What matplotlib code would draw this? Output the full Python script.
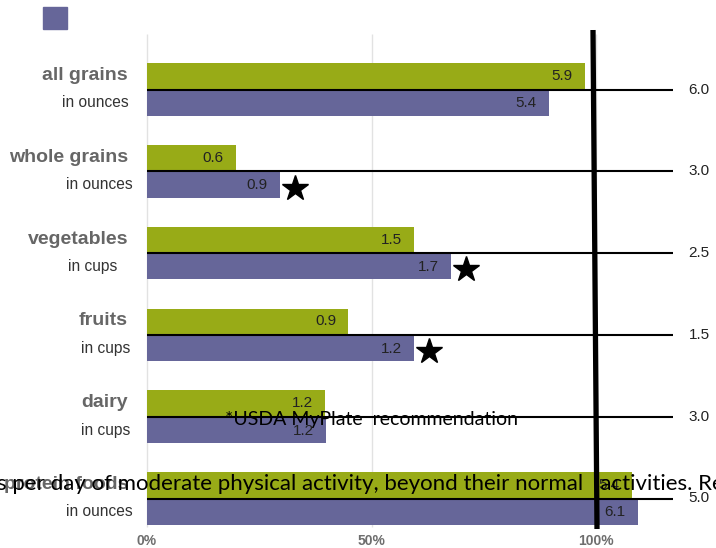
import matplotlib
matplotlib.use("Agg")
from matplotlib import pyplot as plt
from matplotlib.patches import Rectangle

# data (bar lengths are % of the USDA recommendation)
foods = ['all grains', 'whole grains', 'vegetables', 'fruits', 'dairy', 'protein foods']
units = ['in ounces', 'in ounces', 'in cups', 'in cups', 'in cups', 'in ounces']
green_pct = [97.5, 19.8, 59.5, 44.8, 39.6, 108.0]
purple_pct = [89.5, 29.6, 67.7, 59.5, 39.8, 109.3]
green_vals = ['5.9', '0.6', '1.5', '0.9', '1.2', '5.4']
purple_vals = ['5.4', '0.9', '1.7', '1.2', '1.2', '6.1']
recommended = ['6.0', '3.0', '2.5', '1.5', '3.0', '5.0']
starred = [False, True, True, True, False, False]
x_ticks = [0, 50, 100]
x_tick_labels = ['0%', '50%', '100%']

GREEN = '#98ab17'
PURPLE = '#666699'

# pixel helpers (0% at px 147, 1% = 4.49 px, category step 81.8 px)
PX0, PXPCT = 147.0, 4.49
PY0, PYSTEP = 89.5, 81.8
def px2x(px):
    return (px - PX0) / PXPCT
def py2y(py):
    return (py - PY0) / PYSTEP

sub_right_px = [129, 133, 117, 130, 130, 133]

fig = plt.figure(figsize=(7.16, 5.48), dpi=100)
ax = fig.add_axes([0, 0, 1, 1])
ax.set_xlim(px2x(0), px2x(716))
ax.set_ylim(py2y(548), py2y(0))
ax.axis('off')

# light grid
ax.vlines(x_ticks, py2y(34), py2y(527), color='#e2e2e2', lw=1, zorder=0)

idx = list(range(len(foods)))
h = 0.322
ax.barh([i - h / 2 for i in idx], green_pct, height=h, color=GREEN, zorder=2)
ax.barh([i + h / 2 for i in idx], purple_pct, height=h, color=PURPLE, zorder=2)

# recommendation lines
ax.hlines(idx, 0, px2x(673), color='black', lw=1.5, zorder=3)
for i in idx:
    ax.text(px2x(699), i, recommended[i], ha='center', va='center',
            fontsize=11, color='#222222', family='Liberation Sans', zorder=4)

# value labels in bars
for i in idx:
    ax.text(green_pct[i] - 12 / PXPCT, i - 0.165, green_vals[i], ha='right', va='center',
            fontsize=11, color='#222222', family='Liberation Sans', zorder=4)
    ax.text(purple_pct[i] - 12 / PXPCT, i + 0.17, purple_vals[i], ha='right', va='center',
            fontsize=11, color='#222222', family='Liberation Sans', zorder=4)
    if starred[i]:
        ax.plot(purple_pct[i] + 15 / PXPCT, i + 0.2, marker='*', ms=19, color='black',
                zorder=4, clip_on=False)

# category labels
for i in idx:
    ax.text(px2x(128), i - 0.17, foods[i], ha='right', va='center', fontsize=14,
            fontweight='bold', color='#666666', family='Liberation Sans', zorder=4)
    ax.text(px2x(sub_right_px[i]), i + 0.165, units[i], ha='right', va='center',
            fontsize=11.2, color='#333333', family='Liberation Sans', zorder=4)

for x, lab in zip(x_ticks, x_tick_labels):
    ax.text(x, py2y(541), lab, ha='center', va='center', fontsize=10,
            fontweight='bold', color='#6e6e6e', family='Liberation Sans')

# 100% marker line (slightly tilted)
ax.plot([px2x(593), px2x(597)], [py2y(30), py2y(529)], color='black', lw=3.8,
        zorder=5, solid_capstyle='butt')

# legend swatch
fig.patches.append(Rectangle((43 / 716, 1 - 29 / 548), 24 / 716, 22 / 548,
                             transform=fig.transFigure, color=PURPLE))

# stray overlaid text
ax.text(px2x(225), py2y(420), '*USDA MyPlate  recommendation', ha='left', va='center',
        fontsize=14, color='black', family='Lato', zorder=6)
ax.text(px2x(-3), py2y(484), 's per day of moderate physical activity, beyond their normal   activities. Re',
        ha='left', va='center', fontsize=16, color='black', family='Lato', zorder=6)

fig.savefig('out.png', dpi=100)
